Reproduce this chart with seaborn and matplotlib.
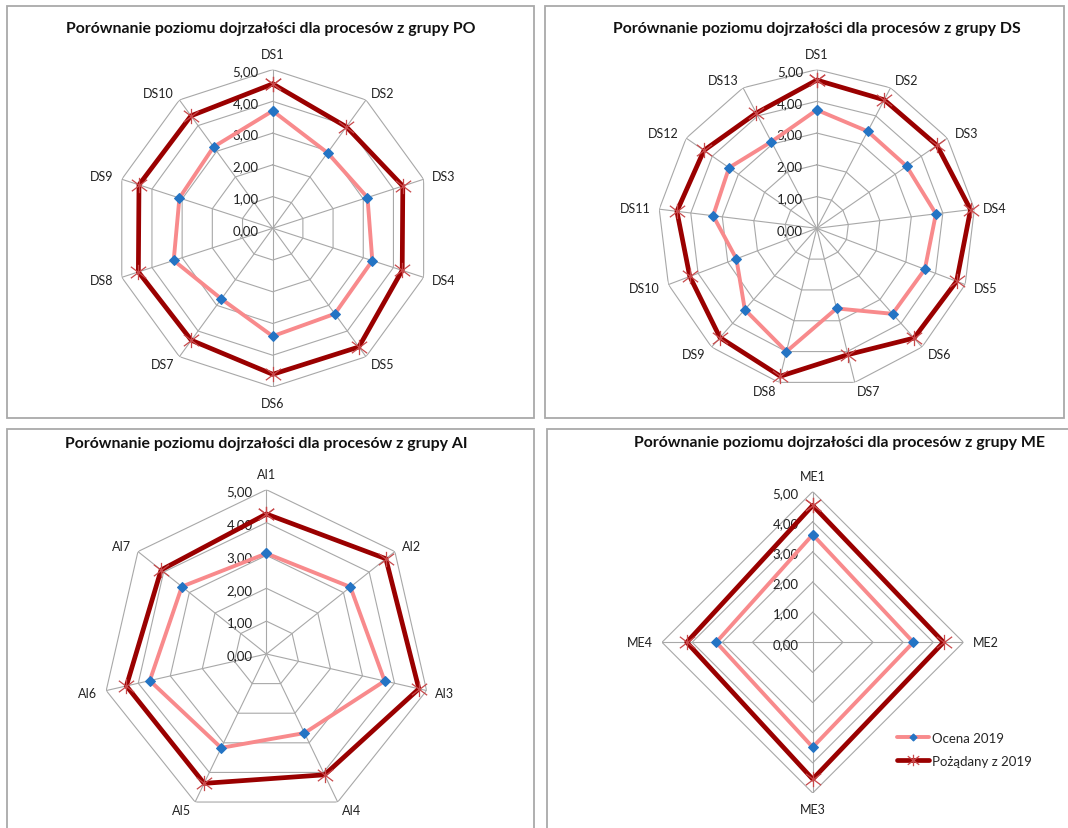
import numpy as np
import matplotlib
matplotlib.use("Agg")
import matplotlib.pyplot as plt
import seaborn as sns
from matplotlib.patches import Rectangle
from matplotlib.path import Path

sns.set_theme(style="white")
plt.rcParams['font.family'] = ['Lato', 'DejaVu Sans']

# ---------------- data ----------------
po_cats = ["DS1", "DS2", "DS3", "DS4", "DS5", "DS6", "DS7", "DS8", "DS9", "DS10"]
po_ocena = [3.70, 2.94, 3.14, 3.30, 3.33, 3.40, 2.75, 3.28, 3.09, 3.17]
po_target = [4.55, 3.95, 4.31, 4.29, 4.62, 4.60, 4.36, 4.45, 4.43, 4.38]

ds_cats = ["DS1", "DS2", "DS3", "DS4", "DS5", "DS6", "DS7", "DS8", "DS9",
           "DS10", "DS11", "DS12", "DS13"]
ds_ocena = [3.73, 3.45, 3.44, 3.78, 3.64, 3.60, 2.60, 4.00, 3.42, 2.71, 3.29, 3.36, 3.08]
ds_target = [4.67, 4.57, 4.60, 4.88, 4.71, 4.62, 4.10, 4.80, 4.60, 4.28, 4.44, 4.32, 4.10]

ai_cats = ["AI1", "AI2", "AI3", "AI4", "AI5", "AI6", "AI7"]
ai_ocena = [3.06, 3.27, 3.69, 2.67, 3.17, 3.64, 3.29]
ai_target = [4.26, 4.65, 4.76, 4.08, 4.37, 4.37, 4.10]

me_cats = ["ME1", "ME2", "ME3", "ME4"]
me_ocena = [3.57, 3.34, 3.48, 3.20]
me_target = [4.54, 4.34, 4.54, 4.18]

tick_levels = [0, 1, 2, 3, 4, 5]
tick_labels = ["0,00", "1,00", "2,00", "3,00", "4,00", "5,00"]

series_names = ["Ocena 2019", "Pożądany z 2019"]
title_prefix = "Porównanie poziomu dojrzałości dla procesów z grupy "

# ---------------- style ----------------
W, H = 1068, 829
DPI = 100
GRID = "#A8A8A8"
PINK = "#F88A8C"
BLUE = "#2474C4"
DARK = "#9A0000"
STAR = "#C8484A"

star_marker = Path([(-1, -0.75), (1, 0.75), (-1, 0.75), (1, -0.75), (0, -1), (0, 1)],
                   [Path.MOVETO, Path.LINETO, Path.MOVETO, Path.LINETO, Path.MOVETO, Path.LINETO])

fig = plt.figure(figsize=(W / DPI, H / DPI), dpi=DPI)
fig.patch.set_facecolor("white")

# panel frames (pixels: x0, y0, x1, y1 from top-left)
frames = [(7, 7, 534, 419), (545, 7, 1064, 419), (7, 430, 534, 840), (547, 430, 1080, 840)]
for x0, y0, x1, y1 in frames:
    fig.patches.append(Rectangle((x0 / W, 1 - y1 / H), (x1 - x0) / W, (y1 - y0) / H,
                                 transform=fig.transFigure, fill=False,
                                 edgecolor="#A9A9A9", lw=1.3, zorder=0))


def radar(cx, cy, R, cats, ocena, target, group, tx, ty, legend=False):
    ax = fig.add_axes([(cx - R) / W, (H - cy - R) / H, 2 * R / W, 2 * R / H],
                      projection="polar")
    ax.set_theta_offset(np.pi / 2)
    ax.set_theta_direction(-1)
    ax.axis("off")
    n = len(cats)
    ang = np.linspace(0, 2 * np.pi, n, endpoint=False)
    angc = np.append(ang, ang[0])
    # polygon grid
    for lv in tick_levels[1:]:
        ax.plot(angc, [lv] * (n + 1), color=GRID, lw=0.8, zorder=1)
    for a in ang:
        ax.plot([a, a], [0, tick_levels[-1]], color=GRID, lw=0.8, zorder=1)
    ax.set_ylim(0, tick_levels[-1])
    # radial tick labels
    for lv, lab in zip(tick_levels, tick_labels):
        ax.annotate(lab, xy=(0, lv), xytext=(-10, -1), textcoords="offset points",
                    ha="right", va="center", fontsize=9.5, color="#222222", zorder=2)
    # category labels
    for a, c in zip(ang, cats):
        s, co = np.sin(a), np.cos(a)
        if abs(s) < 0.05:
            ha = "center"
            va = "bottom" if co > 0 else "top"
            off = 7.0
        else:
            ha = "left" if s > 0 else "right"
            va = "center"
            off = 6.5
        ax.annotate(c, xy=(a, tick_levels[-1]), xytext=(off * s, off * co),
                    textcoords="offset points", ha=ha, va=va, fontsize=9,
                    color="#222222", annotation_clip=False)
    # series
    sns.lineplot(x=angc, y=np.append(target, target[0]), ax=ax, sort=False,
                 estimator=None, color=DARK, lw=3.4, marker=star_marker,
                 markersize=11, markeredgecolor=STAR, markeredgewidth=0.9,
                 markerfacecolor="none", clip_on=False, zorder=4,
                 label=series_names[1] if legend else None, legend=False)
    sns.lineplot(x=angc, y=np.append(ocena, ocena[0]), ax=ax, sort=False,
                 estimator=None, color=PINK, lw=2.8, marker="D",
                 markersize=4.8, markerfacecolor=BLUE, markeredgecolor=BLUE,
                 clip_on=False, zorder=5,
                 label=series_names[0] if legend else None, legend=False)
    ax.set_ylim(0, tick_levels[-1])
    fig.text(tx / W, 1 - ty / H, title_prefix + group, ha="center", va="center",
             fontsize=11.4, fontweight="bold", color="#111111")
    return ax


radar(272.7, 229.3, 158.7, po_cats, po_ocena, po_target, "PO", 271, 28.5)
radar(816.8, 229.3, 158.7, ds_cats, ds_ocena, ds_target, "DS", 816.5, 28.5)
radar(266.4, 655.0, 164.3, ai_cats, ai_ocena, ai_target, "AI", 266.6, 444)
ax_me = radar(812.7, 643.3, 150.7, me_cats, me_ocena, me_target, "ME", 840, 443, legend=True)

h, l = ax_me.get_legend_handles_labels()
order = [l.index(series_names[0]), l.index(series_names[1])]
leg = ax_me.legend([h[i] for i in order], [l[i] for i in order],
                   loc="center left", bbox_to_anchor=(897 / W, 1 - 750.5 / H),
                   bbox_transform=fig.transFigure, frameon=False, fontsize=9.5,
                   handlelength=2.4, handletextpad=0.25, labelspacing=0.85,
                   borderpad=0, borderaxespad=0, markerscale=0.75)

fig.savefig("out.png", dpi=DPI, facecolor="white")
